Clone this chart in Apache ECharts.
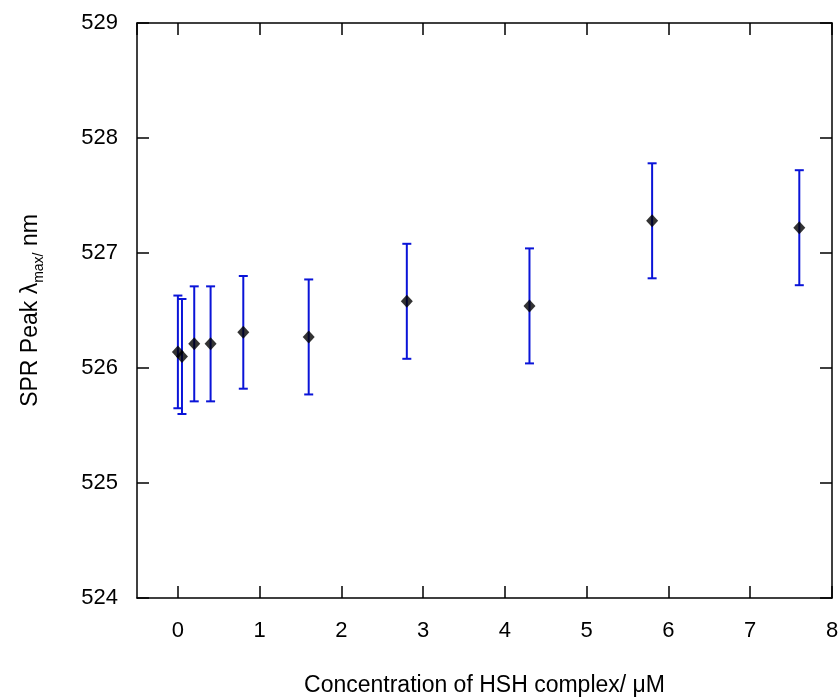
<!DOCTYPE html>
<html>
<head>
<meta charset="utf-8">
<script src="https://cdn.jsdelivr.net/npm/echarts@6/dist/echarts.min.js"></script>
<style>
  html, body { margin: 0; padding: 0; background: #fff; }
  #chart { width: 840px; height: 698px; }
</style>
</head>
<body>
<div id="chart"></div>
<script>
// concentration (uM), SPR peak (nm), error (nm)
const conc = [0, 0.05, 0.2, 0.4, 0.8, 1.6, 2.8, 4.3, 5.8, 7.6];
const peak = [526.14, 526.10, 526.21, 526.21, 526.31, 526.27, 526.58, 526.54, 527.28, 527.22];
const err = [0.49, 0.5, 0.5, 0.5, 0.49, 0.5, 0.5, 0.5, 0.5, 0.5];
const xTicks = [0, 1, 2, 3, 4, 5, 6, 7, 8];
const yTicks = [524, 525, 526, 527, 528, 529];

const font = 'Liberation Sans, Arial, sans-serif';

const points = conc.map((c, i) => [c, peak[i]]);
const bars = conc.map((c, i) => [c, peak[i] - err[i], peak[i] + err[i]]);

const frameLine = { show: true, onZero: false, lineStyle: { color: '#000', width: 1.5 } };
const inTick = { show: true, inside: true, length: 12, lineStyle: { color: '#000', width: 1.5 } };

let myChart = echarts.init(document.getElementById('chart'));

const option = {
    backgroundColor: '#fff',
    animation: false,
    grid: { left: 137, right: 8, top: 23, bottom: 100, containLabel: false, outerBoundsMode: 'none' },
    xAxis: [{
        type: 'value',
        min: -0.5,
        max: xTicks[xTicks.length - 1],
        minInterval: 1,
        maxInterval: 1,
        axisLine: frameLine,
        axisTick: inTick,
        splitLine: { show: false },
        axisLabel: {
            showMinLabel: false,
            margin: 22,
            fontFamily: font, fontSize: 22, color: '#000',
            formatter: v => xTicks.indexOf(v) >= 0 ? String(v) : ''
        },
        name: 'Concentration of HSH complex/ μM',
        nameLocation: 'middle',
        nameGap: 76,
        nameTextStyle: { fontFamily: font, fontSize: 23, color: '#000' }
    }, {
        type: 'value',
        position: 'top',
        min: -0.5,
        max: xTicks[xTicks.length - 1],
        minInterval: 1,
        maxInterval: 1,
        axisLine: frameLine,
        axisTick: inTick,
        axisLabel: { show: false },
        splitLine: { show: false }
    }],
    yAxis: [{
        type: 'value',
        min: yTicks[0],
        max: yTicks[yTicks.length - 1],
        interval: 1,
        axisLine: frameLine,
        axisTick: inTick,
        splitLine: { show: false },
        axisLabel: { margin: 19, fontFamily: font, fontSize: 22, color: '#000' },
        name: '{a|SPR Peak λ}{b|max/}{a| nm}',
        nameLocation: 'middle',
        nameGap: 91,
        nameTextStyle: {
            fontFamily: font, color: '#000',
            rich: {
                a: { fontFamily: font, fontSize: 23, color: '#000', lineHeight: 30, verticalAlign: 'middle' },
                b: { fontFamily: font, fontSize: 14, color: '#000', lineHeight: 14, verticalAlign: 'bottom' }
            }
        }
    }, {
        type: 'value',
        position: 'right',
        min: yTicks[0],
        max: yTicks[yTicks.length - 1],
        interval: 1,
        axisLine: frameLine,
        axisTick: inTick,
        axisLabel: { show: false },
        splitLine: { show: false }
    }],
    series: [{
        type: 'custom',
        data: bars,
        z: 2,
        renderItem: function (params, api) {
            const x = api.value(0);
            const lo = api.coord([x, api.value(1)]);
            const hi = api.coord([x, api.value(2)]);
            const cap = 4.5;
            const style = { stroke: '#0a14d8', lineWidth: 2 };
            return {
                type: 'group',
                children: [
                    { type: 'line', shape: { x1: lo[0], y1: lo[1], x2: hi[0], y2: hi[1] }, style: style },
                    { type: 'line', shape: { x1: lo[0] - cap, y1: lo[1], x2: lo[0] + cap, y2: lo[1] }, style: style },
                    { type: 'line', shape: { x1: hi[0] - cap, y1: hi[1], x2: hi[0] + cap, y2: hi[1] }, style: style }
                ]
            };
        }
    }, {
        type: 'scatter',
        data: points,
        z: 3,
        symbol: 'diamond',
        symbolSize: [12, 13],
        itemStyle: { color: '#000' }
    }]
};

myChart.setOption(option);
</script>
</body>
</html>
